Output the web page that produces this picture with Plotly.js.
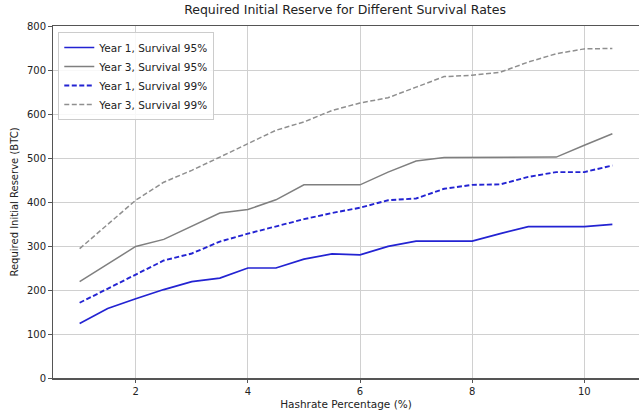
<!DOCTYPE html>
<html><head><meta charset="utf-8">
<script src="https://cdn.plot.ly/plotly-3.0.1.min.js"></script>
<style>body{margin:0}#c{width:639px;height:412px}</style>
</head><body><div id="c"></div>
<script>
const hashrate = [1,1.5,2,2.5,3,3.5,4,4.5,5,5.5,6,6.5,7,7.5,8,8.5,9,9.5,10,10.5];
const y1s95 = [124,158,180,201,219,227,250,250,270,282,280,299,311,311,311,328,344,344,344,349];
const y3s95 = [219,258,299,315,345,375,383,405,439,439,439,468,493,501,501,501,501,502,529,555];
const y1s99 = [171,203,234,267,283,310,328,345,361,375,387,404,408,430,439,440,457,468,468,483];
const y3s99 = [294,350,404,445,472,502,533,563,582,608,625,637,661,685,688,695,718,737,748,749];
const names = ["Year 1, Survival 95%","Year 3, Survival 95%","Year 1, Survival 99%","Year 3, Survival 99%"];

const mk = (y, name, color, dash, w) => ({x: hashrate, y: y, name: name, mode: 'lines', type: 'scatter',
  line: {color: color, width: w, dash: dash}});
const data = [
  mk(y1s95, names[0], '#2323d2', 'solid', 1.7),
  mk(y3s95, names[1], '#7f7f7f', 'solid', 1.5),
  mk(y1s99, names[2], '#2323d2', '5px,2.5px', 1.9),
  mk(y3s99, names[3], '#8f8f8f', '5px,2.5px', 1.5)
];
const layout = {
  width: 639, height: 412,
  margin: {l: 53, r: 0, t: 26, b: 34},
  paper_bgcolor: '#fff', plot_bgcolor: '#fff',
  font: {family: 'DejaVu Sans', color: '#222', size: 10},
  title: {text: 'Required Initial Reserve for Different Survival Rates', font: {size: 12.5, color: '#222'}, x: 0.54, xanchor: 'center', y: 0.988, yanchor: 'top'},
  xaxis: {range: [0.525, 10.975], tickvals: [2,4,6,8,10], showgrid: true, gridcolor: '#d0d0d0', gridwidth: 1,
    zeroline: false, showline: true, linecolor: '#555', linewidth: 1.5, mirror: true, ticks: 'outside', ticklen: 3.5, tickcolor: '#555',
    title: {text: 'Hashrate Percentage (%)', font: {size: 10.5}, standoff: 4}, tickfont: {size: 10}},
  yaxis: {range: [0, 800], dtick: 100, showgrid: true, gridcolor: '#d0d0d0', gridwidth: 1,
    zeroline: false, showline: true, linecolor: '#555', linewidth: 1.5, mirror: true, ticks: 'outside', ticklen: 3.5, tickcolor: '#555',
    title: {text: 'Required Initial Reserve (BTC)', font: {size: 10}, standoff: 6}, tickfont: {size: 10}},
  legend: {x: 0.009, y: 0.983, xanchor: 'left', yanchor: 'top', bgcolor: 'rgba(255,255,255,0.85)',
    bordercolor: '#cccccc', borderwidth: 1, font: {size: 10.5}, tracegroupgap: 0, itemwidth: 30},
  showlegend: true
};
Plotly.newPlot('c', data, layout, {displayModeBar: false, staticPlot: true});
</script></body></html>
